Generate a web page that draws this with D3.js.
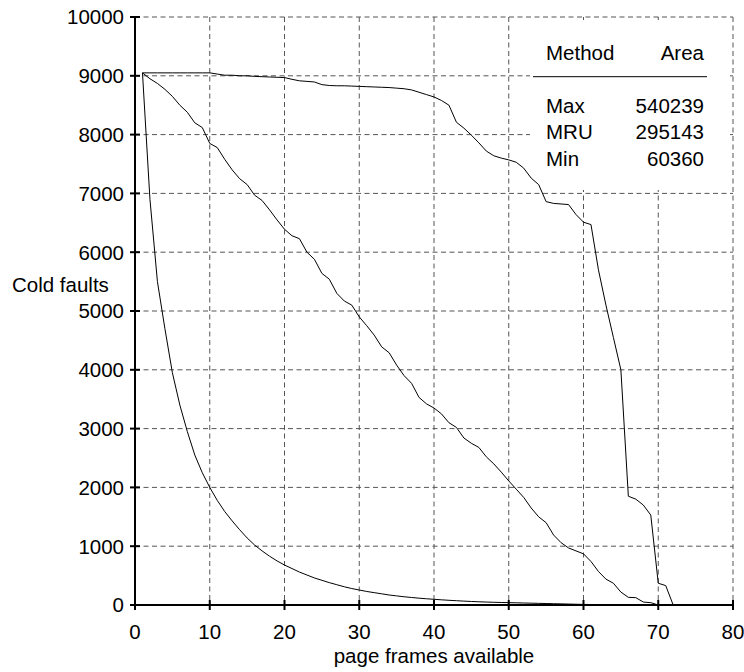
<!DOCTYPE html>
<html>
<head>
<meta charset="utf-8">
<script src="https://cdn.jsdelivr.net/npm/d3@7"></script>
<style>
  html, body { margin: 0; padding: 0; background: #fff; }
  svg { display: block; font-family: "Liberation Sans", Arial, sans-serif; }
</style>
</head>
<body>
<svg id="chart" width="744" height="672"></svg>
<script>
// ---- data ----
const frames = d3.range(1, 73); // 1..72
const maxValues = [9050,9050,9050,9050,9050,9050,9050,9050,9050,9050,
  9030,9010,9010,9000,9000,8990,8985,8980,8975,8970,
  8940,8915,8905,8895,8850,8835,8830,8830,8825,8820,
  8815,8810,8805,8800,8790,8780,8760,8720,8680,8640,
  8580,8500,8210,8110,7990,7860,7720,7640,7600,7570,
  7530,7430,7260,7150,6860,6830,6820,6810,6640,6510,
  6470,5700,5100,4550,4000,1850,1800,1700,1530,370,330,0];
const mruValues = [9050,8950,8870,8770,8650,8500,8380,8200,8120,7850,
  7780,7580,7400,7250,7150,6970,6880,6720,6550,6390,
  6280,6230,6000,5880,5640,5540,5300,5170,5100,4900,
  4750,4590,4390,4290,4080,3900,3770,3530,3420,3350,
  3250,3100,3020,2840,2750,2680,2520,2400,2260,2110,
  1970,1830,1650,1500,1400,1190,1060,970,920,870,
  740,570,440,370,220,130,125,50,40,0];
const minValues = [9050,6900,5500,4700,3950,3400,2950,2550,2250,2000,
  1780,1590,1430,1280,1140,1020,920,830,750,680,
  620,560,510,460,420,380,345,310,280,255,
  230,210,190,170,155,140,128,116,106,97,
  88,80,73,66,60,55,50,46,43,40,
  37,34,31,28,25,22,19,16,13,10,
  8,6,4,3,2,1,0,0,0,0];
const xTicks = [0,10,20,30,40,50,60,70,80];
const yTicks = [0,1000,2000,3000,4000,5000,6000,7000,8000,9000,10000];
const legendMethods = ["Max","MRU","Min"];
const legendAreas = ["540239","295143","60360"];

// ---- layout ----
const svg = d3.select("#chart");
const x = d3.scaleLinear().domain([0,80]).range([135,733]);
const y = d3.scaleLinear().domain([0,10000]).range([605,17]);
const FS = "20.5px";

// grid
const grid = svg.append("g").attr("stroke","#555").attr("stroke-width",1)
  .attr("stroke-dasharray","5,3.5").attr("fill","none");
grid.selectAll("line.v").data(xTicks.filter(d=>d>0)).join("line")
  .attr("x1",d=>x(d)).attr("x2",d=>x(d)).attr("y1",y(10000)).attr("y2",y(0));
grid.selectAll("line.h").data(yTicks.filter(d=>d>0)).join("line")
  .attr("x1",x(0)).attr("x2",x(80)).attr("y1",d=>y(d)).attr("y2",d=>y(d));

// legend background (hides grid)
svg.append("rect").attr("x",530).attr("y",20).attr("width",197).attr("height",170).attr("fill","#fff");

// curves
const line = d3.line().x((d,i)=>x(frames[i])).y(d=>y(d));
[maxValues, mruValues, minValues].forEach(vals=>{
  svg.append("path").datum(vals).attr("d",line)
    .attr("fill","none").attr("stroke","#000").attr("stroke-width",1);
});

// axes
const xAxis = svg.append("g");
xAxis.append("line").attr("x1",x(0)).attr("x2",x(80)).attr("y1",y(0)).attr("y2",y(0))
  .attr("stroke","#000").attr("stroke-width",2);
xAxis.selectAll("line.t").data(xTicks).join("line").attr("class","t")
  .attr("x1",d=>x(d)).attr("x2",d=>x(d)).attr("y1",y(0)-5).attr("y2",y(0)+5)
  .attr("stroke","#000").attr("stroke-width",2);
xAxis.selectAll("text").data(xTicks).join("text")
  .attr("x",d=>x(d)).attr("y",639).attr("text-anchor","middle")
  .attr("font-size",FS).text(d=>d);

const yAxis = svg.append("g");
yAxis.append("line").attr("x1",x(0)).attr("x2",x(0)).attr("y1",y(0)).attr("y2",y(10000))
  .attr("stroke","#000").attr("stroke-width",2);
yAxis.selectAll("line.t").data(yTicks).join("line").attr("class","t")
  .attr("x1",x(0)-5).attr("x2",x(0)+5).attr("y1",d=>y(d)).attr("y2",d=>y(d))
  .attr("stroke","#000").attr("stroke-width",2);
yAxis.selectAll("text").data(yTicks).join("text")
  .attr("x",124).attr("y",d=>y(d)).attr("dy","0.36em").attr("text-anchor","end")
  .attr("font-size",FS).text(d=>d);

// axis titles
svg.append("text").attr("x",12).attr("y",292).attr("font-size",FS).text("Cold faults");
svg.append("text").attr("x",x(40)).attr("y",663).attr("text-anchor","middle")
  .attr("font-size",FS).text("page frames available");

// legend table
const lg = svg.append("g").attr("font-size",FS);
lg.append("text").attr("x",546).attr("y",59.5).text("Method");
lg.append("text").attr("x",704).attr("y",59.5).attr("text-anchor","end").text("Area");
lg.append("line").attr("x1",533).attr("x2",707).attr("y1",76.7).attr("y2",76.7)
  .attr("stroke","#000").attr("stroke-width",1);
const rowY = [112.7, 139.3, 166];
lg.selectAll("text.m").data(legendMethods).join("text").attr("class","m")
  .attr("x",546).attr("y",(d,i)=>rowY[i]).text(d=>d);
lg.selectAll("text.a").data(legendAreas).join("text").attr("class","a")
  .attr("x",704).attr("y",(d,i)=>rowY[i]).attr("text-anchor","end").text(d=>d);
</script>
</body>
</html>
